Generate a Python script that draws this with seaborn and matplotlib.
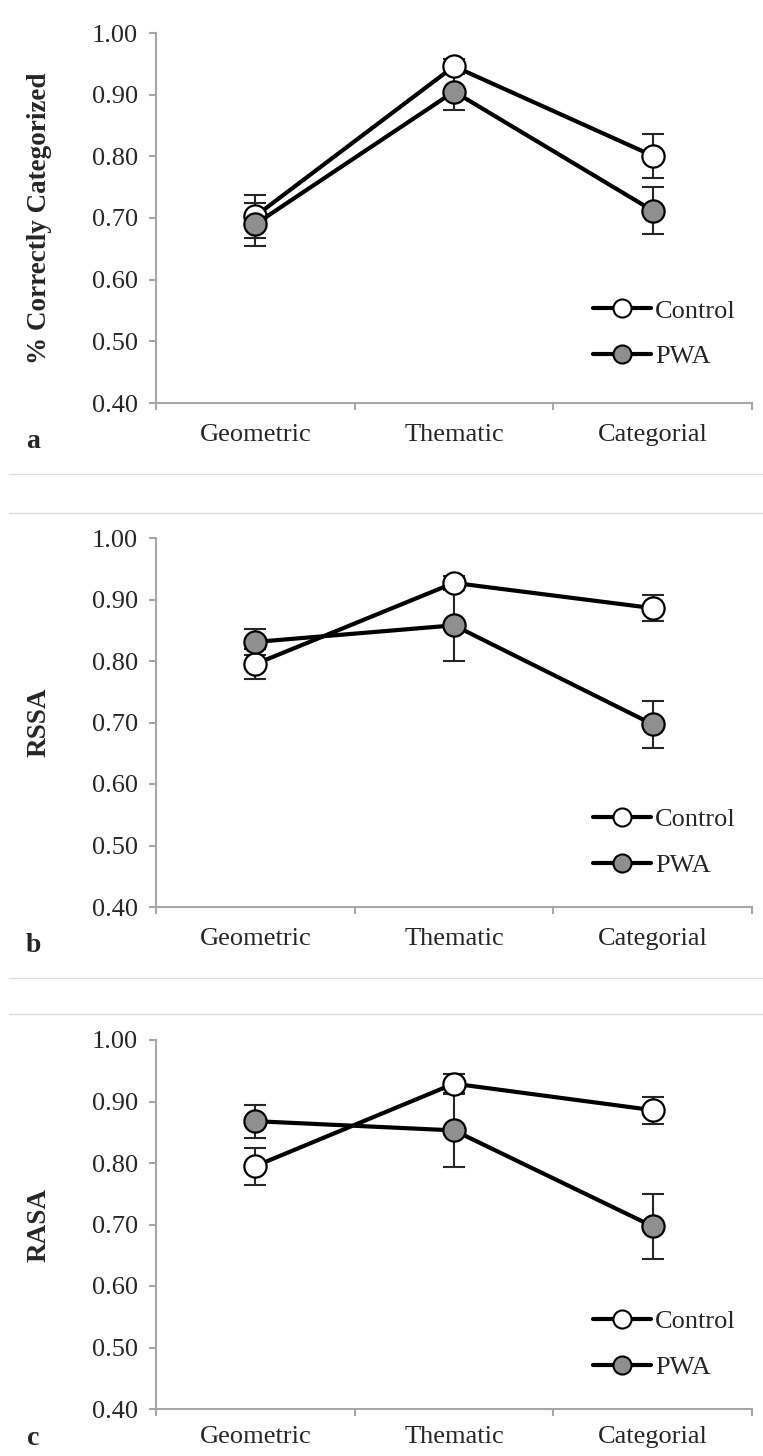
import numpy as np
import pandas as pd
import matplotlib
matplotlib.use("Agg")
import matplotlib.pyplot as plt
from matplotlib.lines import Line2D
from matplotlib.ticker import FormatStrFormatter
import seaborn as sns

categories = ["Geometric", "Thematic", "Categorial"]
groups = ["Control", "PWA"]

# panel a: % correctly categorized
acc_control = [0.703, 0.946, 0.801]
acc_control_err = [0.035, 0.012, 0.036]
acc_pwa = [0.690, 0.905, 0.712]
acc_pwa_err = [0.035, 0.030, 0.038]

# panel b: RSSA
rssa_control = [0.795, 0.927, 0.886]
rssa_control_err = [0.024, 0.012, 0.021]
rssa_pwa = [0.831, 0.858, 0.697]
rssa_pwa_err = [0.021, 0.058, 0.038]

# panel c: RASA
rasa_control = [0.795, 0.929, 0.886]
rasa_control_err = [0.030, 0.015, 0.022]
rasa_pwa = [0.868, 0.853, 0.697]
rasa_pwa_err = [0.027, 0.060, 0.053]

panels = [
    ("a", "% Correctly Categorized", acc_control, acc_control_err, acc_pwa, acc_pwa_err),
    ("b", "RSSA", rssa_control, rssa_control_err, rssa_pwa, rssa_pwa_err),
    ("c", "RASA", rasa_control, rasa_control_err, rasa_pwa, rasa_pwa_err),
]

sns.set_style("ticks")
plt.rcParams["font.family"] = ["Liberation Serif", "DejaVu Serif"]

W, H = 763, 1456
fig = plt.figure(figsize=(W / 100, H / 100), dpi=100)

axis_gray = "#a6a6a6"
faces = {"Control": "white", "PWA": "#8f8f8f"}
fs = 19

# (top px, bottom px) of each plot area
boxes = [(33, 403), (538, 907), (1040, 1409)]
legend_y = [0.187, 0.175, 0.175]
label_pad = [15, 15, 12]
letter_y = [-0.103, -0.103, -0.08]
left_px, right_px = 156, 752

for i, (letter, ylabel, c_vals, c_err, p_vals, p_err) in enumerate(panels):
    top, bot = boxes[i]
    ax = fig.add_axes([left_px / W, 1 - bot / H, (right_px - left_px) / W, (bot - top) / H])

    series = {"Control": (c_vals, c_err), "PWA": (p_vals, p_err)}
    pos = np.arange(len(categories))

    for g in groups:
        vals, errs = series[g]
        ax.errorbar(pos, vals, yerr=errs, fmt="none", ecolor="#262626",
                    elinewidth=1.5, capsize=8, capthick=1.5, zorder=2)

    for g in groups:
        vals, errs = series[g]
        df = pd.DataFrame({"pos": pos, "value": vals})
        sns.lineplot(data=df, x="pos", y="value", ax=ax, color="black", lw=3,
                     marker="o", markersize=16, markerfacecolor=faces[g],
                     markeredgecolor="black", markeredgewidth=1.6,
                     errorbar=None, zorder=3)

    ax.set_xlim(-0.5, len(categories) - 0.5)
    ax.set_ylim(0.4, 1.0)
    ax.set_yticks(np.arange(0.4, 1.001, 0.1))
    ax.yaxis.set_major_formatter(FormatStrFormatter("%.2f"))

    ax.set_xticks(np.arange(len(categories) + 1) - 0.5)
    ax.set_xticklabels([])
    ax.set_xticks(pos, minor=True)
    ax.set_xticklabels(categories, minor=True)

    ax.tick_params(axis="x", which="major", length=5, width=1.5, color=axis_gray)
    ax.tick_params(axis="x", which="minor", length=0, pad=label_pad[i], labelsize=fs)
    ax.tick_params(axis="y", length=5, width=1.5, color=axis_gray, pad=8, labelsize=fs)

    sns.despine(ax=ax)
    for s in ["left", "bottom"]:
        ax.spines[s].set_color(axis_gray)
        ax.spines[s].set_linewidth(1.5)

    ax.set_xlabel("")
    ax.set_ylabel(ylabel, fontsize=19.5, fontweight="bold")
    ax.yaxis.set_label_coords(-0.175, 0.5)

    ax.text(-0.206, letter_y[i], letter, transform=ax.transAxes, ha="center", va="center",
            fontsize=fs + 1, fontweight="bold")

    handles = [Line2D([], [], color="black", lw=3, marker="o", markersize=13,
                      markerfacecolor=faces[g], markeredgecolor="black",
                      markeredgewidth=1.5) for g in groups]
    ax.legend(handles, groups, loc="center left", bbox_to_anchor=(0.733, legend_y[i]),
              frameon=False, fontsize=fs, handlelength=2.2, handletextpad=0.15,
              labelspacing=0.85, borderpad=0, borderaxespad=0)

# thin separators between the panels
for y in [474, 513, 978, 1014]:
    fig.add_artist(Line2D([9 / W, 1], [1 - y / H, 1 - y / H], transform=fig.transFigure,
                          color="#dcdcdc", lw=1))

fig.savefig("out.png", dpi=100)
